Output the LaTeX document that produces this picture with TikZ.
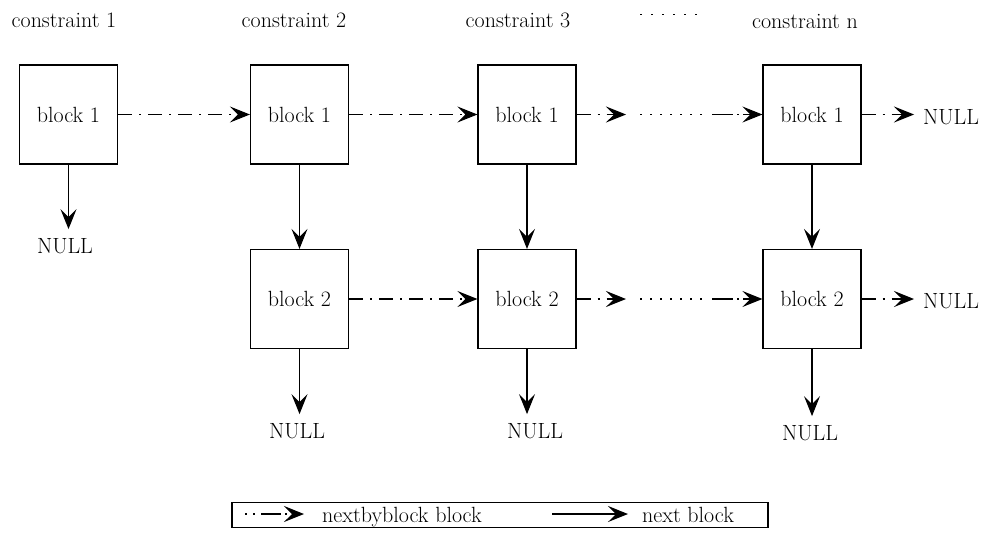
\documentclass[tikz,border=0pt]{standalone}
\usetikzlibrary{arrows.meta}
\begin{document}
\begin{tikzpicture}[x=1pt,y=-1pt,
  font=\fontsize{22}{26}\selectfont,
  blk/.style={draw, line width=1.2pt, minimum width=98pt, minimum height=99pt, inner sep=0pt},
  tip/.style={-{Stealth[length=20pt,width=16pt,inset=8pt]}},
  nextln/.style={line width=1.2pt, tip},
  nbb/.style={line width=1.2pt, tip, dash pattern=on 14pt off 7pt on 2pt off 7pt},
  dotln/.style={line width=1.2pt, dash pattern=on 2pt off 8pt},
  nul/.style={inner sep=9pt},
  lbl/.style={inner sep=0pt}]
\useasboundingbox (0,0) rectangle (987,544);

% column labels
\node[lbl] (c1) at (64,20) {constraint 1};
\node[lbl] (c2) at (294,20) {constraint 2};
\node[lbl] (c3) at (518,20) {constraint 3};
\node[lbl] (cn) at (805,21) {constraint n};
\coordinate (td1) at (640,14.5);
\coordinate (td2) at (698,14.5);
\draw[line width=1.2pt, dash pattern=on 2pt off 9pt] (td1) -- (td2);

% blocks
\node[blk] (b11) at (68.5,114.5) {block 1};
\node[blk] (b21) at (299.5,114.5) {block 1};
\node[blk] (b31) at (527,114.5) {block 1};
\node[blk] (b41) at (812,114.5) {block 1};
\node[blk] (b22) at (299.5,299) {block 2};
\node[blk] (b32) at (527,299) {block 2};
\node[blk] (b42) at (812,299) {block 2};

% NULL nodes
\node[nul] (n11) at (65,246) {NULL};
\node[nul] (n22) at (297,431) {NULL};
\node[nul] (n32) at (535,431) {NULL};
\node[nul] (n42) at (810,433) {NULL};
\node[nul,anchor=west] (n41) at (914,117) {NULL};
\node[nul,anchor=west] (n42r) at (914,301) {NULL};

% intermediate coordinates on the broken connectors
\coordinate (m1) at (626,114.5);
\coordinate (m2) at (640,114.5);
\coordinate (m3) at (702,114.5);
\coordinate (m4) at (712,114.5);
\coordinate (m5) at (626,299);
\coordinate (m6) at (640,299);
\coordinate (m7) at (702,299);
\coordinate (m8) at (712,299);

% nextbyblock connectors
\draw[nbb] (b11.east) -- (b21.west);
\draw[nbb] (b21.east) -- (b31.west);
\draw[nbb] (b31.east) -- (m1);
\draw[dotln] (m2) -- (m3);
\draw[nbb, dash pattern=on 21pt off 4pt on 2pt off 4pt] (m4) -- (b41.west);
\draw[nbb] (b41.east) -- (b41.east -| n41.west);

\draw[nbb] (b22.east) -- (b32.west);
\draw[nbb] (b32.east) -- (m5);
\draw[dotln] (m6) -- (m7);
\draw[nbb, dash pattern=on 21pt off 4pt on 2pt off 4pt] (m8) -- (b42.west);
\draw[nbb] (b42.east) -- (b42.east -| n42r.west);

% next connectors
\draw[nextln] (b11.south) -- (b11.south |- n11.north);
\draw[nextln] (b21.south) -- (b22.north);
\draw[nextln] (b31.south) -- (b32.north);
\draw[nextln] (b41.south) -- (b42.north);
\draw[nextln] (b22.south) -- (b22.south |- n22.north);
\draw[nextln] (b32.south) -- (b32.south |- n32.north);
\draw[nextln] (b42.south) -- (b42.south |- n42.north);

% legend
\node[draw, line width=1.2pt, minimum width=536pt, minimum height=25pt, inner sep=0pt] (leg) at (500,515) {};
\coordinate (l1) at (245,514);
\coordinate (l2) at (304,514);
\draw[nbb, dash pattern=on 2pt off 6pt on 2pt off 6pt on 20pt off 4pt] (l1) -- (l2);
\node[anchor=base west, inner sep=0pt] (t1) at (322,522) {nextbyblock block};
\coordinate (l3) at (552,514);
\coordinate (l4) at (628,514);
\draw[nextln] (l3) -- (l4);
\node[anchor=base west, inner sep=0pt] (t2) at (642,522) {next block};
\end{tikzpicture}
\end{document}
